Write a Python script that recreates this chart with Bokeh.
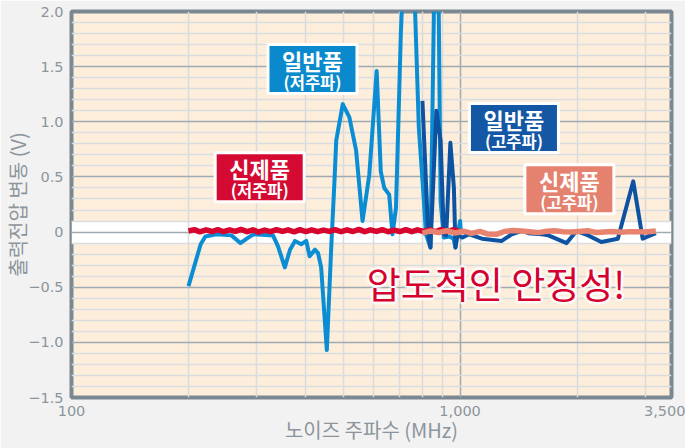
from bokeh.plotting import figure
from bokeh.models import FixedTicker, BoxAnnotation
from bokeh.core.properties import value
from bokeh.embed import file_html
from bokeh.resources import INLINE

# ---------------- data ----------------
# conventional product, low frequency (light blue)
lb_freq = [200, 215, 221, 236, 258, 272, 285, 294, 330, 340, 354, 365, 376, 390, 402,
           410, 423, 431, 439, 454, 466, 475, 480, 499, 519, 540, 561, 584, 610, 625,
           638, 657, 670, 684, 704, 736, 766, 783, 807, 817, 839, 871, 891, 908, 940,
           962, 973, 1000, 1005]
lb_v = [-0.49, -0.11, -0.04, -0.02, -0.03, -0.10, -0.05, -0.02, -0.03, -0.13, -0.32, -0.16,
        -0.08, -0.11, -0.08, -0.22, -0.16, -0.19, -0.32, -1.07, -0.14, 0.46, 0.83, 1.16,
        1.04, 0.74, 0.10, 0.52, 1.46, 0.55, 0.40, 0.34, -0.02, 0.22, 1.80, 3.50, 2.00,
        0.95, 0.28, -0.02, -0.14, 3.80, 0.28, -0.05, -0.04, -0.06, -0.14, 0.10, 0.00]

# conventional product, high frequency (dark blue)
db_freq = [800, 828, 839, 869, 891, 908, 921, 944, 964, 973, 982, 1012, 1055, 1138, 1280,
           1358, 1443, 1499, 1622, 1687, 1880, 1993, 2135, 2309, 2547, 2790, 2950, 3190]
db_v = [1.19, -0.02, -0.14, 1.10, 0.83, -0.02, -0.03, 0.81, 0.40, -0.14, -0.02, -0.05,
        -0.02, -0.06, -0.08, -0.02, 0.01, -0.01, -0.02, -0.03, -0.10, 0.01, -0.03, -0.09,
        -0.06, 0.46, -0.06, -0.01]

# new product, low frequency (red)
rd_freq = [200, 207, 214, 222, 230, 238, 246, 255, 264, 273, 283, 293, 303, 314, 325, 337,
           349, 361, 374, 387, 401, 415, 430, 445, 461, 477, 494, 512, 530, 549, 568, 588,
           609, 631, 653, 676, 700, 725, 751, 777, 805, 833, 863, 893, 925, 958, 993]
rd_v = [0.010, 0.022, 0.002, 0.020, 0.005, 0.022, 0.003, 0.020, 0.006, 0.024, 0.004, 0.020,
        0.000, 0.018, 0.004, 0.022, 0.006, 0.020, 0.002, 0.022, 0.005, 0.020, 0.004, 0.018,
        0.006, 0.022, 0.003, 0.020, 0.005, 0.024, 0.004, 0.020, 0.006, 0.022, 0.003, 0.018,
        0.005, 0.022, 0.004, 0.020, 0.006, 0.020, 0.003, 0.022, 0.005, 0.020, 0.010]

# new product, high frequency (coral)
cr_freq = [800, 840, 880, 925, 970, 1020, 1070, 1125, 1180, 1240, 1300, 1370, 1440, 1510,
           1590, 1670, 1750, 1840, 1930, 2030, 2130, 2240, 2350, 2470, 2590, 2720, 2860,
           3000, 3190]
cr_v = [-0.010, 0.010, -0.005, 0.012, -0.008, 0.008, -0.012, 0.006, -0.018, -0.020, 0.005,
        0.015, 0.010, 0.002, -0.005, 0.008, 0.012, 0.004, 0.000, 0.006, 0.012, -0.004,
        0.000, 0.005, -0.002, 0.004, 0.002, 0.000, 0.010]

x_ticks = [100, 1000, 3500]
x_tick_labels = {100: "100", 1000: "1,000", 3500: "3,500"}
x_minor_grid = [200, 300, 400, 500, 600, 700, 800, 900, 2000, 3000]
y_ticks = [-1.5, -1.0, -0.5, 0, 0.5, 1.0, 1.5, 2.0]
y_tick_labels = {-1.5: "\u22121.5", -1.0: "\u22121.0", -0.5: "\u22120.5", 0: "0",
                 0.5: "0.5", 1.0: "1.0", 1.5: "1.5", 2.0: "2.0"}
y_minor_grid = [-1.4, -1.3, -1.2, -1.1, -0.9, -0.8, -0.7, -0.6, -0.4, -0.3, -0.2, -0.1,
                0.1, 0.2, 0.3, 0.4, 0.6, 0.7, 0.8, 0.9, 1.1, 1.2, 1.3, 1.4, 1.6, 1.7,
                1.8, 1.9]

# ---------------- figure ----------------
GRAY = "#8C959C"
KR = "Noto Sans CJK KR"

p = figure(width=685, height=448, x_axis_type="log", x_range=(100, 3500), y_range=(-1.5, 2.0),
           output_backend="svg", toolbar_location=None,
           background_fill_color="#FDEEDC", border_fill_color="#F2F2F2",
           min_border_left=67, min_border_right=14, min_border_top=11, min_border_bottom=51)
p.outline_line_color = "#7B8892"
p.outline_line_width = 4

for ax in (p.xaxis, p.yaxis):
    ax.axis_line_color = None
    ax.major_tick_line_color = None
    ax.minor_tick_line_color = None
    ax.major_tick_out = 0
    ax.major_tick_in = 0
    ax.minor_tick_out = 0
    ax.minor_tick_in = 0
    ax.major_label_text_font = "DejaVu Sans"
    ax.major_label_text_font_size = "14.5px"
    ax.major_label_text_color = GRAY
    ax.axis_label_text_font = KR
    ax.axis_label_text_font_style = "normal"
    ax.axis_label_text_font_size = "20px"
    ax.axis_label_text_color = GRAY

p.xaxis.ticker = FixedTicker(ticks=x_ticks)
p.xaxis.major_label_overrides = x_tick_labels
p.xaxis.major_label_standoff = 8
p.xaxis.axis_label = "노이즈 주파수 (MHz)"
p.xaxis.axis_label_standoff = -4

p.yaxis.ticker = FixedTicker(ticks=y_ticks)
p.yaxis.major_label_overrides = y_tick_labels
p.yaxis.major_label_standoff = 8
p.yaxis.axis_label = "출력전압 변동 (V)"
p.yaxis.axis_label_standoff = -7

p.ygrid.ticker = FixedTicker(ticks=y_ticks, minor_ticks=y_minor_grid)
p.ygrid.grid_line_color = "#A0AAB1"
p.ygrid.grid_line_width = 1.5
p.ygrid.minor_grid_line_color = "#D9DDE0"
p.ygrid.minor_grid_line_width = 1.5

p.xgrid.ticker = FixedTicker(ticks=[1000], minor_ticks=x_minor_grid)
p.xgrid.grid_line_color = "#A0AAB1"
p.xgrid.grid_line_width = 1.5
p.xgrid.minor_grid_line_color = "#DADADA"
p.xgrid.minor_grid_line_width = 1.5

band = BoxAnnotation(bottom=-0.1, top=0.1, fill_color="white", fill_alpha=1.0,
                     line_color=None, level="image")
p.add_layout(band)

# ---------------- lines ----------------
p.line(lb_freq, lb_v, line_color="#0A8DD2", line_width=4, line_join="round")
p.line(db_freq, db_v, line_color="#0E52A2", line_width=4, line_join="round")
p.line(rd_freq, rd_v, line_color="#D8062F", line_width=5.5, line_join="round")
p.line(cr_freq, cr_v, line_color="#E8836F", line_width=5.5, line_join="round")

# ---------------- labels ----------------
box_x = [417, 305, 1376, 1911]
box_y = [1.479, 0.497, 0.943, 0.388]
box_col = ["#0A8ACC", "#D40A33", "#1457A5", "#E5826F"]
box_l1 = ["일반품", "신제품", "일반품", "신제품"]
box_l2 = ["(저주파)", "(저주파)", "(고주파)", "(고주파)"]

p.rect(x=box_x, y=box_y, width=89, height=49, width_units="screen", height_units="screen",
       fill_color=box_col, line_color="white", line_width=3)
p.text(x=box_x, y=box_y, text=box_l1, text_font=value(KR), text_font_style="bold",
       text_font_size="22px", text_color="white", text_align="center",
       text_baseline="middle", y_offset=-9)
p.text(x=box_x, y=box_y, text=box_l2, text_font=value(KR), text_font_style="bold",
       text_font_size="16.5px", text_color="white", text_align="center",
       text_baseline="middle", y_offset=13)

msg = "압도적인 안정성!"
for dx, dy in [(-2, 0), (2, 0), (0, -2), (0, 2), (-2, -2), (2, 2), (-2, 2), (2, -2),
               (-3, 0), (3, 0), (0, 3), (0, -3)]:
    p.text(x=[1237], y=[-0.461], text=[msg], text_font=value(KR), text_font_size="37px",
           text_color="white", text_alpha=0.45, text_align="center", text_baseline="middle",
           x_offset=dx, y_offset=dy)
p.text(x=[1237], y=[-0.461], text=[msg], text_font=value(KR), text_font_size="37px",
       text_color="#D6002E", text_align="center", text_baseline="middle")

open("out.html", "w").write(file_html(p, INLINE))
